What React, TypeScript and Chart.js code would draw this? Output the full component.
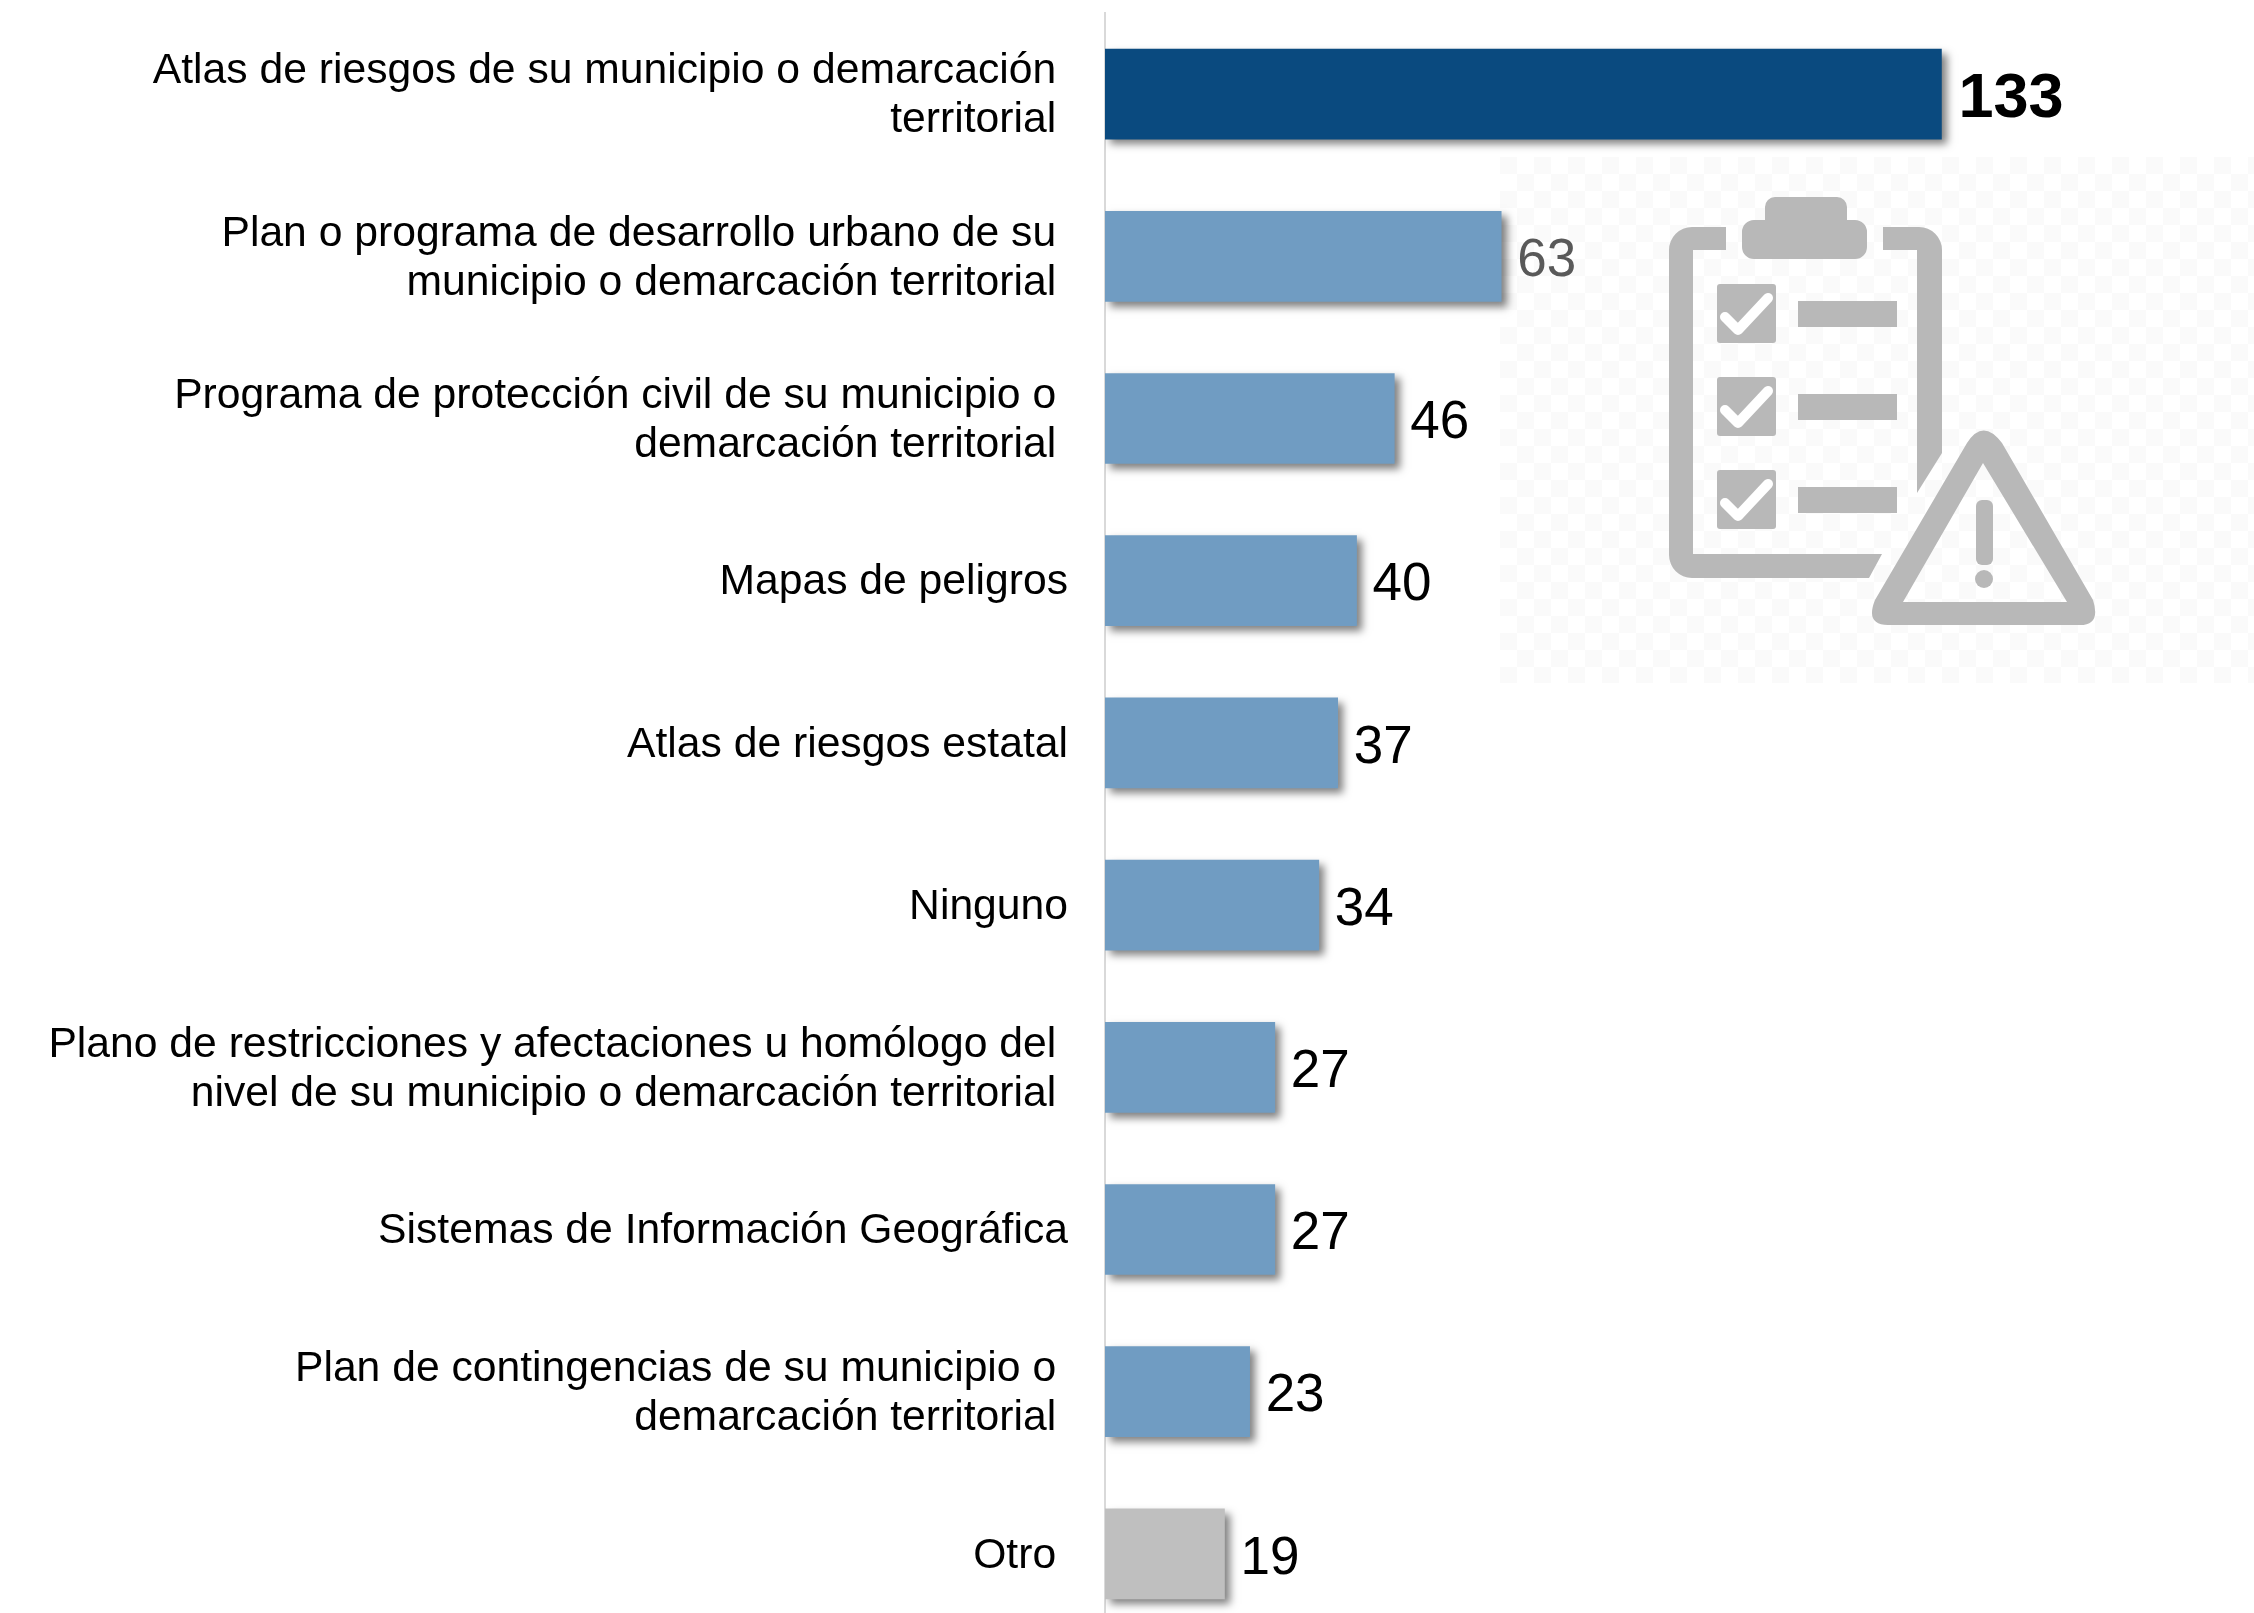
import React, { useEffect, useRef } from "react";
import { Chart, registerables } from "chart.js";

Chart.register(...registerables);

const categories: string[][] = [
  ["Atlas de riesgos de su municipio o demarcación", "territorial"],
  ["Plan o programa de desarrollo urbano de su", "municipio o demarcación territorial"],
  ["Programa de protección civil de su municipio o", "demarcación territorial"],
  ["Mapas de peligros"],
  ["Atlas de riesgos estatal"],
  ["Ninguno"],
  ["Plano de restricciones y afectaciones u homólogo del", "nivel de su municipio o demarcación territorial"],
  ["Sistemas de Información Geográfica"],
  ["Plan de contingencias de su municipio o", "demarcación territorial"],
  ["Otro"],
];
const values: number[] = [133, 63, 46, 40, 37, 34, 27, 27, 23, 19];
const barColors: string[] = ["#0A4A7F", "#709CC2", "#709CC2", "#709CC2", "#709CC2", "#709CC2", "#709CC2", "#709CC2", "#709CC2", "#BFBFBF"];
const valueColors: string[] = ["#000000", "#595959", "#000000", "#000000", "#000000", "#000000", "#000000", "#000000", "#000000", "#000000"];
const indentedLabels: string[] = ["Otro"];
const checkRows: number[] = [284, 377, 470];

const FONT = '"Liberation Sans", Arial, sans-serif';

const shadowPlugin = {
  id: "barShadow",
  beforeDatasetDraw(chart: any) {
    const c = chart.ctx;
    c.save();
    c.shadowColor = "rgba(0,0,0,0.5)";
    c.shadowBlur = 8;
    c.shadowOffsetX = 5;
    c.shadowOffsetY = 5;
  },
  afterDatasetDraw(chart: any) {
    chart.ctx.restore();
  },
};

const valueLabelPlugin = {
  id: "valueLabels",
  afterDatasetsDraw(chart: any) {
    const c = chart.ctx;
    const meta = chart.getDatasetMeta(0);
    c.save();
    c.textAlign = "left";
    c.textBaseline = "middle";
    meta.data.forEach((bar: any, i: number) => {
      c.font = i === 0 ? `bold 63px ${FONT}` : `53px ${FONT}`;
      c.fillStyle = valueColors[i];
      c.fillText(String(values[i]), bar.x + (i === 0 ? 17 : 16), bar.y + (i === 0 ? 6 : 5));
    });
    c.restore();
  },
};

function Watermark() {
  const g = "#B8B8B8";
  return (
    <svg width={2254} height={1640} style={{ position: "absolute", left: 0, top: 0 }}>
      <defs>
        <pattern id="chk" width="34" height="34" patternUnits="userSpaceOnUse" x="1500" y="157">
          <rect width="34" height="34" fill="#FFFFFF" />
          <rect width="17" height="17" fill="#FAFAFA" />
          <rect x="17" y="17" width="17" height="17" fill="#FAFAFA" />
        </pattern>
      </defs>
      <rect x={1500} y={157} width={754} height={526} fill="url(#chk)" />
      <path
        fill={g}
        d="M1726 227h-34a23 23 0 0 0-23 23v305a23 23 0 0 0 23 23h177l13-24h-189v-304h33zM1883 250v-23h36a23 23 0 0 1 23 23v203l-25 40v-243z"
      />
      <path
        fill={g}
        d="M1765 207a10 10 0 0 1 10-10h62a10 10 0 0 1 10 10v13h8a12 12 0 0 1 12 12v15a12 12 0 0 1-12 12h-101a12 12 0 0 1-12-12v-15a12 12 0 0 1 12-12h11z"
      />
      {checkRows.map((y) => (
        <g key={y}>
          <rect x={1717} y={y} width={59} height={59} rx={3} fill={g} />
          <path
            d={`M${1725} ${y + 33}L${1738} ${y + 46}L${1768} ${y + 14}`}
            fill="none"
            stroke="#FFFFFF"
            strokeWidth={10}
            strokeLinecap="round"
            strokeLinejoin="round"
          />
          <rect x={1798} y={y + 17} width={99} height={26} fill={g} />
        </g>
      ))}
      <path
        fillRule="evenodd"
        fill={g}
        d="M1967 443Q1983 418 2002 443L2093 600Q2101 625 2080 625H1888Q1865 625 1875 600ZM1983 463L1903 602H2067Z"
      />
      <rect x={1976} y={500} width={17} height={65} rx={6} fill={g} />
      <circle cx={1984} cy={579} r={9} fill={g} />
    </svg>
  );
}

export default function App() {
  const ref = useRef<HTMLCanvasElement>(null);
  useEffect(() => {
    document.body.style.margin = "0";
    const chart = new Chart(ref.current!, {
      type: "bar",
      data: {
        labels: categories,
        datasets: [{ data: values, backgroundColor: barColors, barThickness: 90 }],
      },
      plugins: [shadowPlugin, valueLabelPlugin],
      options: {
        animation: false,
        responsive: false,
        indexAxis: "y",
        layout: { padding: { left: 0, right: 0, top: 13, bottom: 0 } },
        plugins: { legend: { display: false }, tooltip: { enabled: false } },
        scales: {
          x: { display: false, min: 0, max: 182.7 },
          y: {
            afterFit(scale: any) {
              scale.width = 1105;
              scale.paddingTop = 0;
              scale.paddingBottom = 0;
            },
            border: { display: true, color: "#D9D9D9", width: 2 },
            grid: { display: false },
            ticks: {
              autoSkip: false,
              padding: 29,
              labelOffset: 2,
              color: "#000000",
              font: { family: FONT, size: 42.67, lineHeight: "49px" as any },
              callback(_v: any, i: number) {
                const lines = categories[i];
                const indent = lines.length > 1 || indentedLabels.includes(lines[0]);
                return indent ? lines.map((l) => l + " ") : lines;
              },
            },
          },
        },
      },
    });
    return () => chart.destroy();
  }, []);
  return (
    <div style={{ position: "relative", width: 2254, height: 1613, overflow: "hidden", background: "#FFFFFF" }}>
      <Watermark />
      <canvas ref={ref} width={2254} height={1635} style={{ position: "absolute", left: 0, top: 0, display: "block" }} />
    </div>
  );
}
